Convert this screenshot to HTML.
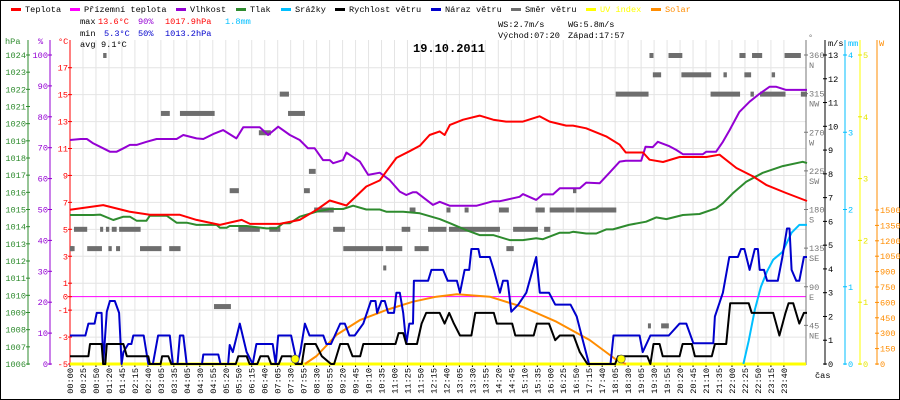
<!DOCTYPE html>
<html><head><meta charset="utf-8"><style>
html,body{margin:0;padding:0;background:#fff}
svg{display:block}
text{font-family:"Liberation Mono",monospace;font-size:8.6px}
</style></head><body>
<svg id="chart" width="900" height="400" xmlns="http://www.w3.org/2000/svg">
<rect x="0.5" y="0.5" width="899" height="399" fill="#fff" stroke="#000"/>
<g id="grid"></g>
<g id="axes"></g>
<g id="series"></g>
<g id="legend"></g>
<g id="stats">
<text x="80" y="24">max</text>
<text x="98" y="24" fill="#f00">13.6°C</text>
<text x="138" y="24" fill="#9400d3">90%</text>
<text x="165" y="24" fill="#f00">1017.9hPa</text>
<text x="225" y="24" fill="#00bfff">1.8mm</text>
<text x="80" y="36">min</text>
<text x="104" y="36" fill="#00c">5.3°C</text>
<text x="138" y="36" fill="#00c">50%</text>
<text x="165" y="36" fill="#00c">1013.2hPa</text>
<text x="80" y="47">avg</text>
<text x="101" y="47">9.1°C</text>
<text x="498" y="27">WS:2.7m/s</text>
<text x="568" y="27">WG:5.8m/s</text>
<text x="498" y="38">Východ:07:20</text>
<text x="568" y="38">Západ:17:57</text>
<text x="413" y="52" style="font-size:12px;font-weight:bold">19.10.2011</text>
</g>
</svg>
<script>
// ---- data ----
const timeLabels=["00:00","00:25","00:50","01:20","01:45","02:15","02:40","03:05","03:35","04:05","04:30","04:55","05:20","05:50","06:15","06:40","07:05","07:30","07:55","08:30","08:55","09:20","09:45","10:10","10:35","11:00","11:25","11:50","12:15","12:40","13:05","13:30","13:55","14:20","14:45","15:10","15:35","16:00","16:25","16:50","17:15","17:40","18:05","18:30","19:05","19:30","19:55","20:20","20:45","21:10","21:35","22:00","22:25","22:50","23:15","23:40"];
const tempT=[0,1.08,1.95,2.6,3.58,4.12,4.88,5.2,5.59,5.86,6.4,6.83,7.48,8.03,8.46,9.0,9.65,10.09,10.3,10.63,11.06,11.39,11.71,12.04,12.2,12.37,12.8,13.34,13.78,14.2,14.75,15.29,15.62,16.16,16.38,16.81,17.46,17.9,18.1,18.66,18.87,19.31,19.85,20.72,21.15,21.7,22.24,22.67,23.32,24];
const tempV=[6.45,6.8,6.3,6.08,6.08,5.7,5.33,5.5,5.7,5.4,5.4,5.4,5.7,6.45,7.14,6.77,8.18,8.63,9.3,10.3,10.8,11.2,12.0,12.27,12.0,12.75,13.14,13.44,13.14,13.0,13.0,13.39,13.0,12.7,12.7,12.5,11.9,11.28,10.7,10.7,10.17,10.0,10.37,10.37,10.54,9.55,8.93,8.3,7.7,7.1];
const humT=[0,0.35,0.55,0.76,1.08,1.3,1.52,1.74,1.95,2.17,2.49,2.82,3.47,3.69,4.12,4.34,4.66,4.99,5.42,5.64,6.18,6.45,6.78,7.16,7.48,7.75,7.97,8.24,8.46,8.57,8.89,9.0,9.44,9.71,10.09,10.41,10.74,10.95,11.17,11.28,11.61,11.82,12.04,12.37,13.23,13.78,14.0,14.64,14.75,15.18,15.4,15.73,15.95,16.6,16.81,17.25,17.57,17.9,18.1,18.6,18.74,18.98,19.14,19.52,19.74,19.96,20.61,20.72,21.04,21.26,21.48,21.8,22.13,22.45,22.78,23.0,23.32,24];
const humV=[72.5,72.8,72.8,71.4,69.8,68.7,68.7,69.8,70.9,70.9,71.9,72.8,72.8,74.1,73,72.8,74.4,75.7,73,76.6,76.6,74.1,76.8,74.1,72.5,69.8,69.8,66,66,65,66,68.4,65.5,61.2,61.9,59.5,55.8,54.7,55.6,55.6,53.1,51.5,52.5,51.2,51.2,52.7,52.7,54.1,55,53.1,54.9,54.9,56.9,56.9,58.7,58.5,61.9,65.5,65.8,65.8,70.3,70.2,71.9,70.5,69.3,67.9,67.9,68.7,68.7,71.9,75.7,81.6,84.9,87.4,89.7,89.7,88.7,88.7];
const presT=[0,0.76,0.98,1.41,1.74,1.95,2.17,2.49,2.6,3.15,3.47,3.8,4.12,4.77,4.88,5.1,5.2,5.75,6.4,6.72,6.94,7.16,7.48,8.03,8.46,8.89,9.22,9.65,10.09,10.3,10.85,11.39,12.04,12.37,12.9,13.34,13.78,14.32,14.75,15.18,15.4,15.95,16.27,16.38,16.81,17.14,17.46,17.68,18.2,18.76,19.09,19.42,19.96,20.5,21.04,21.26,21.58,22.02,22.56,23.21,23.86,24];
const presV=[1014.68,1014.68,1014.7,1014.39,1014.58,1014.58,1014.35,1014.35,1014.64,1014.64,1014.23,1014.23,1014.1,1014.1,1013.94,1013.94,1014.04,1014.04,1013.9,1013.9,1014.2,1014.2,1014.58,1014.87,1015.03,1015.03,1015.22,1015.0,1015.0,1014.87,1014.87,1014.78,1014.44,1014.2,1013.8,1013.51,1013.51,1013.22,1013.22,1013.32,1013.27,1013.65,1013.65,1013.7,1013.6,1013.6,1013.84,1013.84,1014.1,1014.29,1014.54,1014.44,1014.68,1014.74,1015.07,1015.36,1015.94,1016.62,1017.14,1017.53,1017.78,1017.7];
const windT=[0,0.6,0.65,1.03,1.08,1.15,1.2,1.74,1.85,2.55,2.6,2.95,3.0,3.2,3.3,5.4,5.48,5.75,5.85,6.1,6.2,6.45,6.55,6.8,6.9,7.2,7.35,7.55,7.65,8.0,8.2,8.5,8.6,8.8,9.05,9.2,9.45,9.55,10.6,10.7,10.85,10.95,11.3,11.45,11.6,11.9,12.04,12.2,12.35,12.5,12.7,13.07,13.2,13.8,13.9,14.4,14.5,15.1,15.2,15.6,15.8,15.95,16.4,16.6,16.85,17.75,17.85,18.8,18.9,19.0,19.2,19.3,19.85,19.95,20.25,20.35,20.9,21.0,21.37,21.5,22.1,22.2,22.9,23.1,23.3,23.4,23.55,23.75,23.9,24];
const windV=[0.33,0.33,0.84,0.84,0,0,0.84,0.84,0.33,0.33,0,0,0.33,0.33,0,0,0.33,0.33,0,0,0.33,0.33,0,0,0.33,0.33,0,0,0.84,0.84,0.33,0,0,0.84,0.84,0.33,0.33,0.84,0.84,1.3,1.3,0.84,0.84,1.7,2.15,2.15,2.15,1.7,2.15,1.7,1.2,1.2,2.15,2.15,1.7,1.7,1.2,1.2,1.7,1.7,1.0,1.2,1.2,0.5,0,0,0.33,0.33,0,0.84,0.84,0.33,0.33,0.84,0.84,0.33,0.33,0.84,0.84,2.56,2.56,2.15,2.15,1.2,2.15,2.56,2.56,1.7,2.15,2.15];
const gustT=[0,0.5,0.6,0.8,0.87,1.03,1.08,1.2,1.3,1.46,1.6,1.68,1.74,1.9,2.0,2.06,2.4,2.55,2.7,2.87,3.25,3.35,3.5,3.58,3.69,3.8,4.3,4.34,4.83,4.9,5.15,5.2,5.3,5.53,5.75,5.95,6.07,6.6,6.7,6.78,7.2,7.4,7.5,7.65,7.8,8.25,8.35,8.5,8.8,8.95,9.1,9.27,9.55,9.8,9.95,10.0,10.14,10.25,10.36,10.55,10.63,10.74,10.85,10.95,11.05,11.17,11.2,11.66,11.77,12.15,12.3,12.6,12.7,12.85,13.0,13.07,13.3,13.35,13.67,13.8,14.0,14.1,14.25,14.37,14.6,14.86,15.18,15.3,15.6,15.8,16.3,16.5,16.7,16.9,17.6,17.7,18.55,18.65,18.9,19.5,19.85,20.07,20.3,20.95,21.0,21.26,21.47,21.75,21.85,21.96,22.13,22.3,22.4,22.46,22.6,22.7,23.05,23.2,23.35,23.43,23.5,23.65,23.75,23.9,24];
const gustV=[1.2,1.2,1.7,1.7,2.15,2.15,0,2.2,2.65,2.65,2.15,0,0.5,0.84,0.84,1.2,1.2,0,0,1.2,1.2,0,0,1.2,1.2,0,0,0.4,0.4,0,0,0.8,0.5,1.7,0.5,0,0.84,0.84,0,1.2,1.2,0,0.5,1.7,1.2,1.2,0.84,0.84,1.7,1.7,1.2,1.2,1.7,2.65,2.65,2.15,2.65,2.65,2.15,2.15,3.0,3.0,2.15,0.84,1.7,1.7,3.5,3.5,3.96,3.96,3.5,3.5,3.0,3.96,3.96,4.84,4.84,4.5,4.5,3.96,3.0,3.5,3.5,2.2,2.5,3.0,4.5,3.0,3.0,2.5,2.5,2.0,1.0,0,0,1.2,1.2,0.5,1.2,1.2,1.7,1.7,0.87,0.87,2.0,3.0,4.5,4.5,4.84,4.84,3.96,4.84,4.84,3.96,3.96,3.5,3.5,4.5,5.7,5.7,3.96,3.5,3.5,4.5,4.5];
const rainT=[21.93,22.1,22.3,22.5,22.7,22.9,23.2,23.5,23.75,24];
const rainV=[0,0.3,0.7,1.0,1.2,1.35,1.45,1.7,1.8,1.8];
const solarT=[7.65,8.03,8.68,9.44,10.3,11.17,11.93,12.6,13.67,14.75,15.84,16.92,17.8,18.1];
const solarV=[0,78,283,428,526,607,656,679,656,555,412,234,39,0];
const dirStart=[0,0.13,0.98,1.17,1.36,1.6,0,0.56,1.25,1.5,2.28,3.23,8.9,10.28,11.22,5.48,6.49,8.57,10.8,11.66,12.34,14.43,15.44,7.95,11.06,12.26,12.85,13.97,15.16,15.62,16.46,5.2,7.62,16.38,7.78,6.15,2.96,3.58,7.1,6.83,17.77,20.86,22.16,22.47,23.8,1.08,18.87,19.49,21.8,22.21,23.27,18.98,19.91,21.28,21.96,22.85,10.2,4.69,18.82,19.25,14.21];
const dirEnd=[0.05,0.56,1.08,1.28,1.52,2.3,0.15,1.04,1.36,1.63,2.98,3.6,10.2,10.82,11.68,6.18,6.85,8.95,11.08,12.26,14.0,15.24,15.64,8.59,11.25,12.39,12.98,14.29,15.46,16.43,17.79,5.5,7.81,16.49,8.0,6.54,3.25,4.71,7.65,7.13,18.84,21.82,22.27,23.3,24,1.19,19.0,19.94,22.0,22.54,23.8,19.25,20.88,21.39,22.18,22.96,10.3,5.24,18.9,19.5,14.45];
const dirDeg=[135,157.5,157.5,157.5,157.5,157.5,135,135,135,135,135,135,135,135,135,157.5,157.5,157.5,157.5,157.5,157.5,157.5,157.5,180,180,180,180,180,180,180,180,202.5,202.5,202.5,225,270,292.5,292.5,292.5,315,315,315,315,315,315,360,360,360,360,360,360,337.5,337.5,337.5,337.5,337.5,112.5,67.5,45,45,135];
const sunT=[7.33,17.95];
const hpaTicks=[1006,1007,1008,1009,1010,1011,1012,1013,1014,1015,1016,1017,1018,1019,1020,1021,1022,1023,1024];
const pctTicks=[0,10,20,30,40,50,60,70,80,90,100];
const tempTicks=[-5,-3,-1,0,1,3,5,7,9,11,13,15,17];
const degTicks=[45,90,135,180,225,270,315,360];
const degNames=["NE","E","SE","S","SW","W","NW","N"];
const msTicks=[0,1,2,3,4,5,6,7,8,9,10,11,12,13];
const mmTicks=[0,1,2,3,4];
const uvTicks=[0,1,2,3,4,5];
const wTicks=[0,150,300,450,600,750,900,1050,1200,1350,1500];

// ---- scales ----
const X0=70,X1=807,YB=364,YT=55,STEP=12.98;
const x=h=>X0+h*(X1-X0)/24;
const yT=t=>YB-(t+5)*(YB-67.7)/22;
const yH=p=>YB-(p-1006)*(YB-YT)/18;
const yP=v=>YB-v*(YB-YT)/100;
const yD=d=>YB-d*(YB-YT)/360;
const yW=v=>YB-v*(YB-YT)/13;
const yR=v=>YB-v*(YB-YT)/4;
const yU=v=>YB-v*(YB-YT)/5;
const yS=v=>YB-v*(YB-210)/1500;
const NS="http://www.w3.org/2000/svg";
function mk(tag,attrs,parent,txt){const e=document.createElementNS(NS,tag);for(const k in attrs)e.setAttribute(k,attrs[k]);if(txt!==undefined)e.textContent=txt;parent.appendChild(e);return e;}
const grid=document.getElementById('grid'),axes=document.getElementById('axes'),ser=document.getElementById('series'),leg=document.getElementById('legend');

// grid + x labels
timeLabels.forEach((lab,i)=>{const gx=X0+i*STEP;
 const l=mk('line',{x1:gx,x2:gx,y1:40,y2:YB,stroke:'#e4e4e4'},grid);
 
 
 const tl=mk('text',{x:gx+3,y:368,'text-anchor':'end',transform:`rotate(-90 ${gx+3} 368)`},axes,lab);
 
 
 const tk=mk('line',{x1:gx,x2:gx,y1:YB,y2:YB+3,stroke:'#000'},axes);
 
 
});
tempTicks.forEach(t=>{if(t!==0){const l=mk('line',{x1:X0,x2:806,y1:yT(t),y2:yT(t),stroke:'#e4e4e4'},grid);
 
 }});
const zl=mk('line',{x1:X0,x2:806,y1:yT(0),y2:yT(0),stroke:'#ff00ff'},grid);



// axes
function vaxis(ax,col,name,top){const l=mk('line',{x1:ax,x2:ax,y1:top,y2:YB+1,stroke:col},axes);
 
 }
vaxis(28,'#2e8b2e','hpa-axis',40);vaxis(50,'#9400d3','humidity-axis',40);vaxis(X0,'#f00','temp-axis',40);
vaxis(806,'#777','direction-axis',40);vaxis(825,'#000','wind-axis',40);vaxis(845,'#00bfff','rain-axis',40);vaxis(860,'#ffff00','uv-axis',40);vaxis(877,'#ff8c00','solar-axis',40);
function ticks(arr,yf,ax,col,name,left){arr.forEach(v=>{const yy=yf(v);
 const tk=mk('line',{x1:ax-2,x2:ax+2,y1:yy,y2:yy,stroke:col},axes);
 
 
 const t=mk('text',{x:left?ax-2:ax+3,y:yy+3,fill:col,'text-anchor':left?'end':'start'},axes,String(v));
 
 });}
ticks(hpaTicks,yH,28,'#2e8b2e','hpa',true);
ticks(pctTicks,yP,50,'#9400d3','humidity',true);
ticks(tempTicks,yT,X0,'#f00','temp',true);
ticks(degTicks,yD,806,'#777','direction',false);
degTicks.forEach((d,i)=>{const t=mk('text',{x:809,y:yD(d)+13,fill:'#777'},axes,degNames[i]);
 
 });
ticks(msTicks,yW,825,'#000','wind',false);
ticks(mmTicks,yR,845,'#00bfff','rain',false);
ticks(uvTicks,yU,860,'#e6e600','uv',false);
ticks(wTicks,yS,877,'#ff8c00','solar',false);
[[5,44,'#2e8b2e','hPa','hpa-unit'],[38,44,'#9400d3','%','humidity-unit'],[58,44,'#f00','°C','temp-unit'],[808,40,'#777','°','direction-unit'],[828,46,'#000','m/s','wind-unit'],[848,46,'#00bfff','mm','rain-unit'],[879,46,'#ff8c00','W','solar-unit'],[815,378,'#000','čas','time-unit']].forEach(u=>{
 const t=mk('text',{x:u[0],y:u[1],fill:u[2]},axes,u[3]);
 
 });
const xb=mk('line',{x1:X0,x2:806,y1:YB,y2:YB,stroke:'#ffff00','stroke-width':3},axes);



// series
function line(T,V,yf,col,name,w){const pts=T.map((t,i)=>x(t).toFixed(1)+','+yf(V[i]).toFixed(1)).join(' ');
 const p=mk('polyline',{points:pts,fill:'none',stroke:col,'stroke-width':w||2,'stroke-linejoin':'round'},ser);
 
 }
dirStart.forEach((s,i)=>{const r=mk('rect',{x:x(s),y:yD(dirDeg[i])-2,width:Math.max(3,x(dirEnd[i])-x(s)),height:5,fill:'#6e6e6e'},ser);
 
 });
line(presT,presV,yH,'#2e8b2e','pressure-line');
line(humT,humV,yP,'#9400d3','humidity-line');
line(tempT,tempV,yT,'#f00','temperature-line');
line(solarT,solarV,yS,'#ff8c00','solar-line');
line(rainT,rainV,yR,'#00bfff','rain-line');
line(gustT,gustV,yW,'#0000cc','wind-gust-line');
line(windT,windV,yW,'#000','wind-speed-line');
sunT.forEach(t=>{const c=mk('circle',{cx:x(t),cy:359,r:4,fill:'#ffff00',stroke:'#555','stroke-width':0.7},ser);
 
 });

// legend
[[25,'#f00','Teplota'],[84,'#ff00ff','Přízemní teplota'],[190,'#9400d3','Vlhkost'],[250,'#2e8b2e','Tlak'],[295,'#00bfff','Srážky'],[349,'#000','Rychlost větru'],[445,'#0000cc','Náraz větru'],[525,'#6e6e6e','Směr větru'],[600,'#ffff00','UV index'],[665,'#ff8c00','Solar']].forEach(l=>{
 const g=mk('g',{},leg);
 
 
 mk('rect',{x:l[0]-14,y:8,width:10,height:3,fill:l[1]},g);
 const tc=(l[2]==='UV index'||l[2]==='Solar')?l[1]:'#000';
 mk('text',{x:l[0],y:12,fill:tc},g,l[2]);});
</script>
</body></html>
